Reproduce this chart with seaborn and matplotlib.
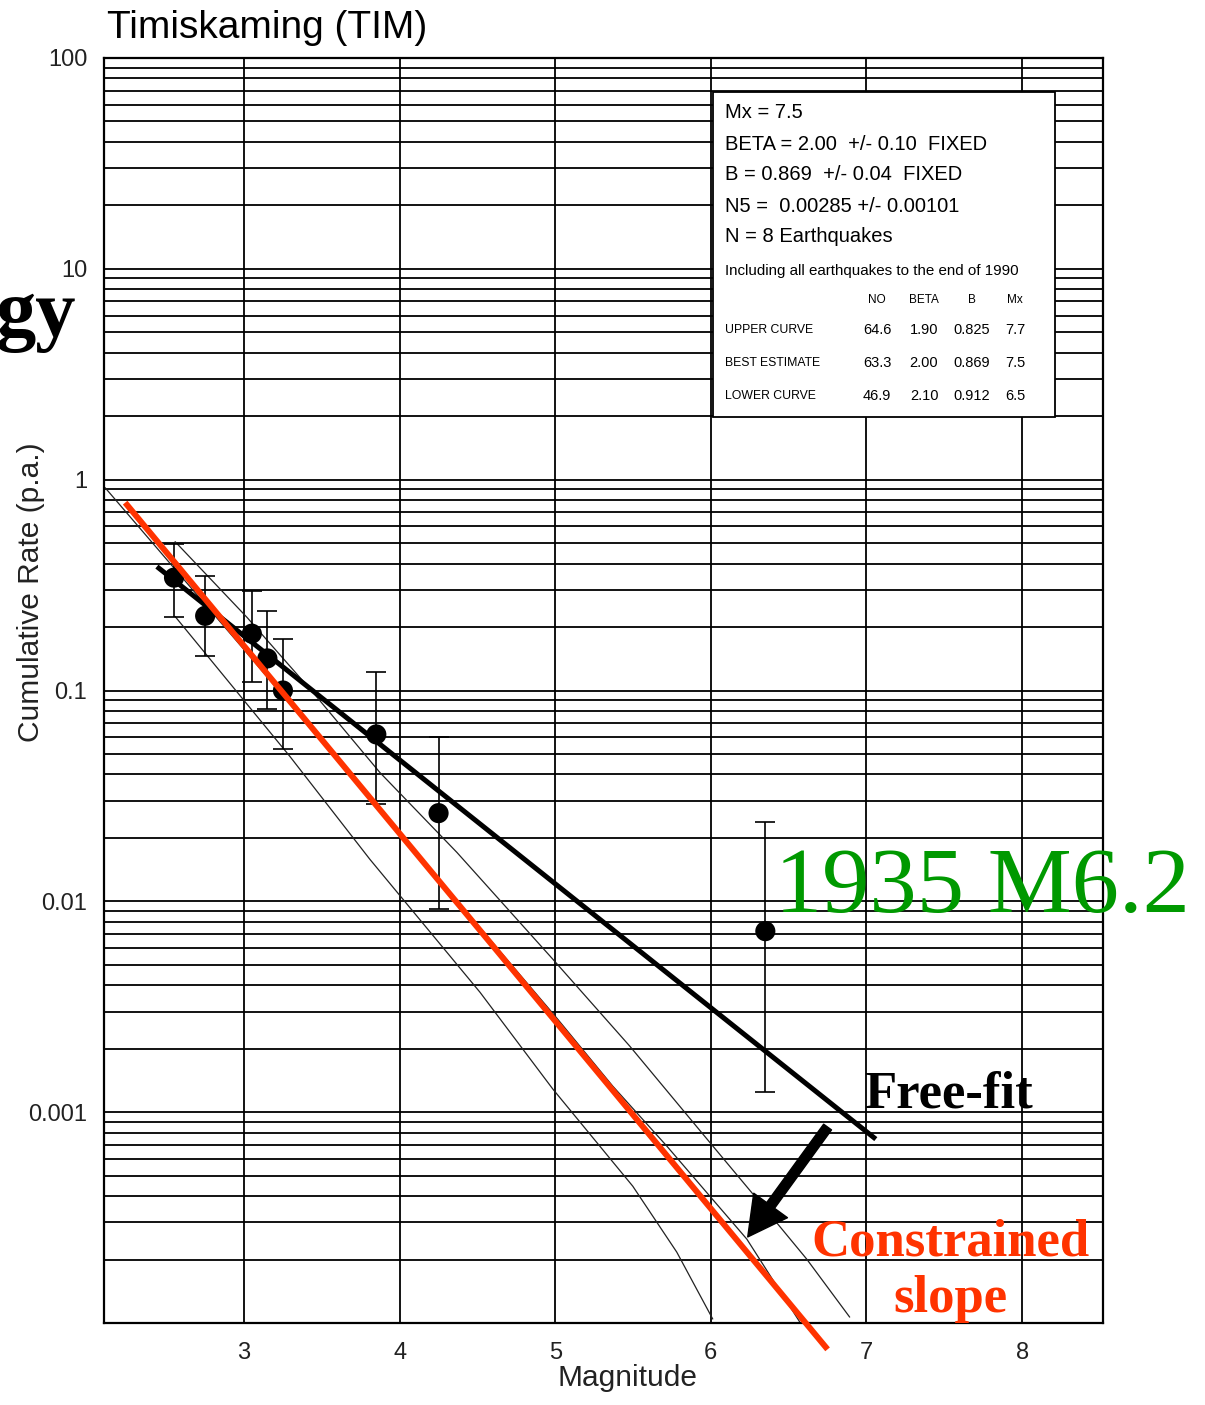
import numpy as np
import matplotlib
matplotlib.use("Agg")
import matplotlib.pyplot as plt
from matplotlib.ticker import LogLocator, NullLocator, FixedLocator, NullFormatter
from matplotlib.patches import Rectangle
import seaborn as sns

# ---- observed cumulative rates (per annum) with error bars ----
magnitude = [2.55, 2.75, 3.05, 3.15, 3.25, 3.85, 4.25, 6.35]
rate = [0.343, 0.226, 0.186, 0.142, 0.100, 0.0619, 0.0262, 0.00722]
rate_hi = [0.497, 0.350, 0.298, 0.237, 0.175, 0.122, 0.0599, 0.0238]
rate_lo = [0.224, 0.145, 0.110, 0.0813, 0.0525, 0.0288, 0.00918, 0.00125]

# ---- recurrence curves (magnitude, log10 rate) ----
upper_m = [2.557, 3.02, 3.443, 3.873, 4.368, 4.985, 5.479, 6.013, 6.314, 6.616, 6.892]
upper_logn = [-0.294, -0.654, -1.009, -1.389, -1.768, -2.275, -2.687, -3.161, -3.427, -3.697, -3.972]
best_m = [2.107, 3.0, 4.0, 5.0, 5.370, 5.717, 5.993, 6.231, 6.571]
best_logn = [-0.038, -0.806, -1.678, -2.545, -2.877, -3.161, -3.398, -3.602, -3.995]
lower_m = [2.557, 3.295, 3.809, 4.516, 4.985, 5.498, 5.781, 6.012]
lower_logn = [-0.649, -1.313, -1.801, -2.431, -2.891, -3.351, -3.664, -3.981]

# ---- fitted straight lines ----
freefit_m = [2.44, 7.06]
freefit_n = [0.387, 7.45e-4]
constrained_m = [2.236, 6.75]
constrained_n = [0.778, 7.5e-5]

# ---- arrow from free fit to constrained slope ----
arrow_tail = (6.75, 8.5e-4)
arrow_head = (6.237, 2.56e-4)

# ---- axis ticks ----
x_ticks = [3, 4, 5, 6, 7, 8]
y_ticks = [0.001, 0.01, 0.1, 1, 10, 100]
y_tick_labels = ["0.001", "0.01", "0.1", "1", "10", "100"]

# ---- parameter box ----
box_lines = ["Mx = 7.5", "BETA = 2.00  +/- 0.10  FIXED", "B = 0.869  +/- 0.04  FIXED",
             "N5 =  0.00285 +/- 0.00101", "N = 8 Earthquakes"]
box_note = "Including all earthquakes to the end of 1990"
table_header = ["NO", "BETA", "B", "Mx"]
table_rows = ["UPPER CURVE", "BEST ESTIMATE", "LOWER CURVE"]
table_values = [["64.6", "1.90", "0.825", "7.7"],
                ["63.3", "2.00", "0.869", "7.5"],
                ["46.9", "2.10", "0.912", "6.5"]]

RED = "#ff3300"
GREEN = "#009900"
SANS = ["Liberation Sans", "DejaVu Sans"]
SERIF = ["Liberation Serif", "DejaVu Serif"]

sns.set_theme(style="white")
plt.rcParams["font.family"] = SANS

W, H = 1205, 1405
fig = plt.figure(figsize=(W / 100, H / 100), dpi=100)


def px(x, y):
    return x / W, 1 - y / H


ax_l, ax_r, ax_t, ax_b = 104, 1103, 58, 1323
ax = fig.add_axes([ax_l / W, 1 - ax_b / H, (ax_r - ax_l) / W, (ax_b - ax_t) / H])
ax.set_yscale("log")
ax.set_xlim(2.1, 8.52)
ax.set_ylim(1e-4, 100)

ax.xaxis.set_major_locator(FixedLocator(x_ticks))
ax.xaxis.set_minor_locator(NullLocator())
ax.yaxis.set_major_locator(FixedLocator(y_ticks))
ax.set_yticklabels(y_tick_labels)
ax.set_xticklabels([str(t) for t in x_ticks])
ax.yaxis.set_minor_locator(LogLocator(base=10, subs=range(2, 10), numticks=20))
ax.yaxis.set_minor_formatter(NullFormatter())
ax.tick_params(which="both", length=0)
ax.tick_params(axis="y", pad=12, labelsize=17, colors="#222222")
ax.tick_params(axis="x", pad=14, labelsize=17, colors="#222222")

ax.set_axisbelow(True)
ax.grid(which="both", axis="y", color="black", lw=1.3)
ax.grid(which="major", axis="x", color="black", lw=1.3)
for s in ax.spines.values():
    s.set_color("black")
    s.set_linewidth(1.6)

# parameter box hides the grid behind it
x0 = (713 - ax_l) / (ax_r - ax_l)
x1 = (1055 - ax_l) / (ax_r - ax_l)
y0 = 1 - (417 - ax_t) / (ax_b - ax_t)
y1 = 1 - (92 - ax_t) / (ax_b - ax_t)
ax.add_patch(Rectangle((x0, y0), x1 - x0, y1 - y0, transform=ax.transAxes,
                       facecolor="white", edgecolor="black", lw=1.3, zorder=1))

# recurrence curves
for m, ln in [(upper_m, upper_logn), (best_m, best_logn), (lower_m, lower_logn)]:
    sns.lineplot(x=m, y=10 ** np.array(ln), ax=ax, color="#222222", lw=0.9,
                 sort=False, estimator=None, zorder=2)

# error bars and points
r = np.array(rate)
ax.errorbar(magnitude, r, yerr=[r - np.array(rate_lo), np.array(rate_hi) - r],
            fmt="none", ecolor="black", elinewidth=1.2, capsize=7, capthick=1.2, zorder=3)
sns.scatterplot(x=magnitude, y=rate, ax=ax, s=210, color="black", edgecolor="none",
                zorder=4, legend=False)

# fitted lines
sns.lineplot(x=freefit_m, y=freefit_n, ax=ax, color="black", lw=3.6,
             sort=False, estimator=None, zorder=5, solid_capstyle="butt")
red_ln = sns.lineplot(x=constrained_m, y=constrained_n, ax=ax, color=RED, lw=4.3,
                      sort=False, estimator=None, zorder=6)
red_ln.lines[-1].set_clip_on(False)
red_ln.lines[-1].set_solid_capstyle("butt")

ax.annotate("", xy=arrow_head, xytext=arrow_tail,
            arrowprops=dict(facecolor="black", edgecolor="black", width=7,
                            headwidth=30, headlength=28, shrink=0), zorder=7)

ax.set_xlabel("")
ax.set_ylabel("")

# axis titles
fig.text(*px(628, 1378), "Magnitude", ha="center", va="center", fontsize=21.5, color="#222222")
fig.text(*px(31, 592), "Cumulative Rate (p.a.)", ha="center", va="center",
         rotation=90, fontsize=21.5, color="#222222")
fig.text(*px(107, 38), "Timiskaming (TIM)", ha="left", va="baseline", fontsize=28, color="black")

# parameter box text
for yy, t in zip([113, 144, 175, 206, 236], box_lines):
    fig.text(*px(725, yy), t, ha="left", va="center", fontsize=14.5, color="black")
fig.text(*px(725, 271), box_note, ha="left", va="center", fontsize=10.9, color="black")
col_x = [877, 924, 972, 1015]
for cx, h in zip(col_x, table_header):
    fig.text(*px(cx, 300), h, ha="center", va="center", fontsize=8.5, color="black")
for yy, lab, vals in zip([330, 363, 396], table_rows, table_values):
    fig.text(*px(725, yy), lab, ha="left", va="center", fontsize=8.8, color="black")
    for cx, v in zip(col_x, vals):
        fig.text(*px(cx, yy), v, ha="center", va="center", fontsize=10.5, color="black")

# annotations
fig.text(*px(76, 336), "gy", ha="right", va="baseline", fontsize=58,
         fontweight="bold", family=SERIF, color="black")
fig.text(*px(775, 912), "1935 M6.2", ha="left", va="baseline", fontsize=68,
         family=SERIF, color=GREEN)
fig.text(*px(864, 1108), "Free-fit", ha="left", va="baseline", fontsize=38,
         fontweight="bold", family=SERIF, color="black")
fig.text(*px(950, 1255), "Constrained", ha="center", va="baseline", fontsize=38,
         fontweight="bold", family=SERIF, color=RED)
fig.text(*px(950, 1312), "slope", ha="center", va="baseline", fontsize=38,
         fontweight="bold", family=SERIF, color=RED)

fig.savefig("out.png", dpi=100)
